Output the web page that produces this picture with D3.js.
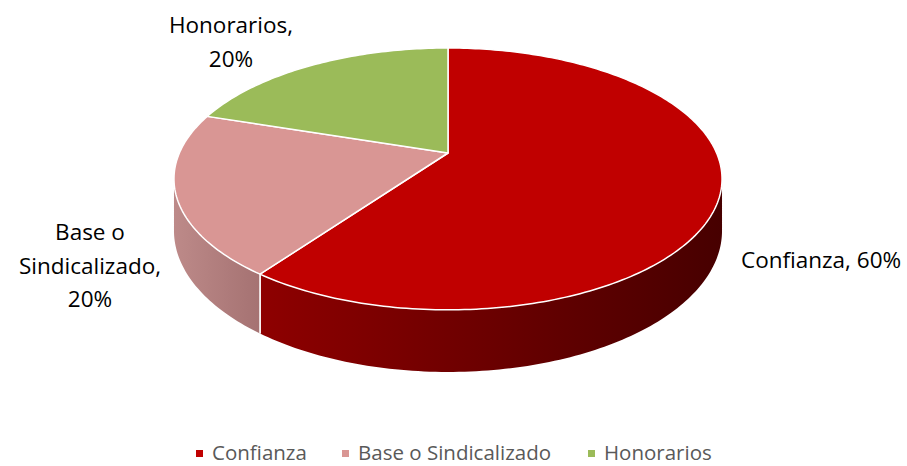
<!DOCTYPE html>
<html><head><meta charset="utf-8">
<script src="https://cdn.jsdelivr.net/npm/d3@7"></script>
<style>html,body{margin:0;padding:0;background:#fff;}svg{display:block;}</style>
</head><body>
<svg id="c" width="907" height="466"></svg>
<script>
const categories = ["Confianza", "Base o Sindicalizado", "Honorarios"];
const values = [60, 20, 20];
const topColors = ["#C00000", "#D99694", "#9BBB59"];
const wallColors = [["#8E0000", "#470000"], ["#BD8A89", "#A57272"], ["#7A9240", "#6A8035"]];
const labelLines = [["Confianza, 60%"], ["Base o", "Sindicalizado,", "20%"], ["Honorarios,", "20%"]];

const svg = d3.select("#c");
// projection parameters
const cx = 448, cy = 153, a = 268.6, b = 125.8, k = -0.198, depth = 49.8;
function proj(theta, r, d) {
  const u = r * Math.sin(theta), v = -r * Math.cos(theta);
  const den = 1 + k * v;
  return [cx + a * u / den, cy + (b * v + d) / den];
}
const pie = d3.pie().sort(null).value(d => d)(values);
const steps = 180;
const defs = svg.append("defs");
const line = d3.line();

// walls (front-visible portion)
const visLo = Math.acos(k), visHi = 2 * Math.PI - Math.acos(k);
pie.forEach((p, i) => {
  const s = Math.max(p.startAngle, visLo), e = Math.min(p.endAngle, visHi);
  if (e <= s) return;
  const n = Math.max(4, Math.ceil((e - s) / (Math.PI * 2) * steps * 2));
  const ang = d3.range(n + 1).map(j => s + (e - s) * j / n);
  const topPts = ang.map(t => proj(t, 1, 0));
  const botPts = ang.map(t => proj(t, 1, depth)).reverse();
  const xs = d3.extent(topPts, q => q[0]);
  const gid = "wg" + i;
  const g = defs.append("linearGradient").attr("id", gid).attr("gradientUnits", "userSpaceOnUse")
    .attr("x1", xs[0]).attr("x2", xs[1]).attr("y1", 0).attr("y2", 0);
  g.append("stop").attr("offset", 0).attr("stop-color", wallColors[i][0]);
  g.append("stop").attr("offset", 1).attr("stop-color", wallColors[i][1]);
  svg.append("path").attr("d", line(topPts.concat(botPts)) + "Z")
    .attr("fill", `url(#${gid})`).attr("stroke", "none");
  [p.startAngle, p.endAngle].forEach(t => {
    if (t > visLo && t < visHi) {
      svg.append("path").attr("d", line([proj(t, 1, 0), proj(t, 1, depth)]))
        .attr("stroke", "#fff").attr("stroke-width", 1.5).attr("fill", "none");
    }
  });
});

// top faces
pie.forEach((p, i) => {
  const n = Math.max(8, Math.ceil((p.endAngle - p.startAngle) / (Math.PI * 2) * steps * 2));
  const pts = [proj(0, 0, 0)].concat(d3.range(n + 1).map(j => proj(p.startAngle + (p.endAngle - p.startAngle) * j / n, 1, 0)));
  svg.append("path").attr("d", line(pts) + "Z")
    .attr("fill", topColors[i]).attr("stroke", "#fff").attr("stroke-width", 1.5).attr("stroke-linejoin", "round");
});

// data labels
const font = "'Open Sans', 'Noto Sans', sans-serif";
const labelPos = [[741, 268, "start"], [90, 240, "middle"], [231, 33, "middle"]];
labelLines.forEach((lines, i) => {
  const t = svg.append("text").attr("font-family", font).attr("font-size", 22.5).attr("fill", "#000")
    .attr("text-anchor", labelPos[i][2]);
  lines.forEach((ln, j) => t.append("tspan").attr("x", labelPos[i][0]).attr("y", labelPos[i][1] + j * 33.5).text(ln));
});

// legend
const legX = [196, 342, 588];
const leg = svg.append("g");
categories.forEach((c, i) => {
  leg.append("rect").attr("x", legX[i]).attr("y", 450).attr("width", 7).attr("height", 7).attr("fill", topColors[i]);
  leg.append("text").attr("x", legX[i] + 16).attr("y", 460).attr("font-family", font).attr("font-size", 20.5)
    .attr("fill", "#595959").text(c);
});
</script>
</body></html>
